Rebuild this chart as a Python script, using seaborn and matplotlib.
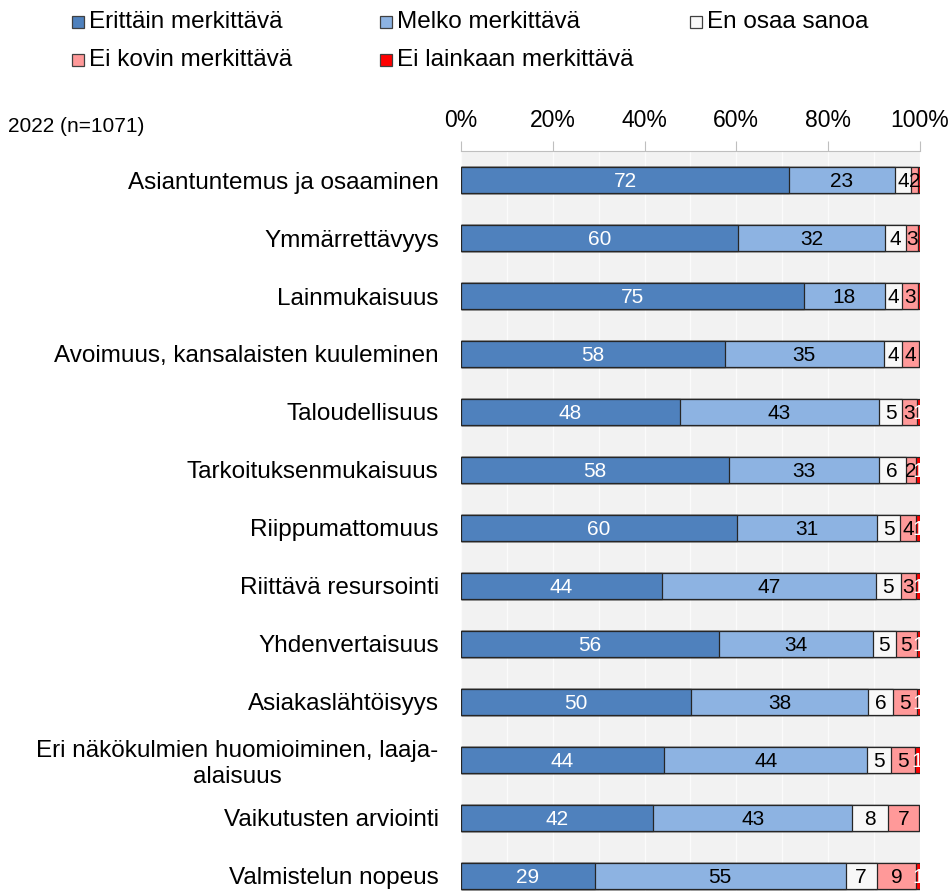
import numpy as np
import pandas as pd
import matplotlib
matplotlib.use('Agg')
import matplotlib.pyplot as plt
from matplotlib.patches import Rectangle
from matplotlib.ticker import FuncFormatter, MultipleLocator
import seaborn as sns

categories = [
    'Asiantuntemus ja osaaminen', 'Ymmärrettävyys', 'Lainmukaisuus',
    'Avoimuus, kansalaisten kuuleminen', 'Taloudellisuus', 'Tarkoituksenmukaisuus',
    'Riippumattomuus', 'Riittävä resursointi', 'Yhdenvertaisuus',
    'Asiakaslähtöisyys', 'Eri näkökulmien huomioiminen, laaja-\nalaisuus',
    'Vaikutusten arviointi', 'Valmistelun nopeus',
]
series = ['Erittäin merkittävä', 'Melko merkittävä', 'En osaa sanoa',
          'Ei kovin merkittävä', 'Ei lainkaan merkittävä']
erittain = [71.5, 60.3, 74.8, 57.5, 47.7, 58.3, 60.1, 43.7, 56.2, 50.2, 44.3, 41.9, 29.2]
melko = [23.0, 32.2, 17.5, 34.6, 43.4, 32.7, 30.6, 46.7, 33.6, 38.4, 44.2, 43.3, 54.6]
en_osaa = [3.6, 4.4, 3.9, 4.0, 5.0, 5.9, 5.0, 5.4, 4.9, 5.6, 5.1, 7.9, 6.8]
ei_kovin = [1.5, 2.7, 3.4, 3.7, 3.2, 2.3, 3.5, 3.4, 4.6, 5.1, 5.4, 6.6, 8.6]
ei_lainkaan = [0.4, 0.4, 0.4, 0.2, 0.7, 0.8, 0.8, 0.8, 0.7, 0.7, 1.0, 0.3, 0.8]

colors = ['#4f81bd', '#8db3e2', '#f8f8f8', '#ff9999', '#ff0000']
text_colors = ['white', 'black', 'black', 'black', 'white']

df = pd.DataFrame({'kategoria': categories, series[0]: erittain, series[1]: melko,
                   series[2]: en_osaa, series[3]: ei_kovin, series[4]: ei_lainkaan})
cum = df[series].cumsum(axis=1)

sns.set_style('white')
plt.rcParams['font.family'] = ['Liberation Sans', 'DejaVu Sans']
plt.rcParams['text.color'] = 'black'
plt.rcParams['xtick.labelcolor'] = 'black'
plt.rcParams['ytick.labelcolor'] = 'black'

fig = plt.figure(figsize=(9.52, 8.91), dpi=100)
ax = fig.add_axes([0.4842, 0.0, 0.4821, 0.8305])

# draw cumulative totals from the right so shorter bars sit on top
for i in range(len(series) - 1, -1, -1):
    sns.barplot(x=cum[series[i]], y=df['kategoria'], orient='h', color=colors[i],
                saturation=1, width=0.45, edgecolor='#262626', linewidth=0.9, ax=ax)

for i, s in enumerate(series):
    for j in range(len(df)):
        v = df[s].iloc[j]
        lab = int(np.floor(v + 0.5))
        if lab < 1:
            continue
        ax.text(cum[s].iloc[j] - v / 2, j + 0.02, str(lab), ha='center', va='center',
                fontsize=15, color=text_colors[i])

ax.set_facecolor('#f2f2f2')
ax.set_xlim(0, 100)
ax.set_ylim(12.26, -0.5)
ax.xaxis.set_major_locator(MultipleLocator(20))
ax.xaxis.set_minor_locator(MultipleLocator(10))
ax.xaxis.set_major_formatter(FuncFormatter(lambda v, p: f'{v:.0f}%'))
ax.xaxis.tick_top()
ax.grid(axis='x', which='both', color='#fbfbfb', linewidth=1.0)
ax.set_axisbelow(True)
ax.tick_params(axis='x', which='major', top=True, bottom=False, length=7,
               color='#bfbfbf', labelsize=16.5, pad=7)
ax.tick_params(axis='x', which='minor', top=False, bottom=False)
ax.tick_params(axis='y', length=0, labelsize=17.5, pad=16)
ax.set_xlabel('')
ax.set_ylabel('')
for side in ['left', 'right', 'bottom']:
    ax.spines[side].set_visible(False)
ax.spines['top'].set_color('#bfbfbf')
for t in ax.get_yticklabels():
    t.set_multialignment('center')

fig.text(8 / 952, 1 - 126 / 891, '2022 (n=1071)', fontsize=15, va='center', ha='left')

# legend laid out in rows like the original
legend_pos = [(72, 22), (380, 22), (690, 22), (72, 60), (380, 60)]
for (px, py), s, c in zip(legend_pos, series, colors):
    fig.add_artist(Rectangle((px / 952, 1 - (py + 6) / 891), 12 / 952, 12 / 891,
                             transform=fig.transFigure, facecolor=c,
                             edgecolor='#404040', linewidth=0.9))
    fig.text((px + 17) / 952, 1 - py / 891, s, fontsize=17.5, va='center', ha='left')

fig.savefig('out.png', dpi=100)
